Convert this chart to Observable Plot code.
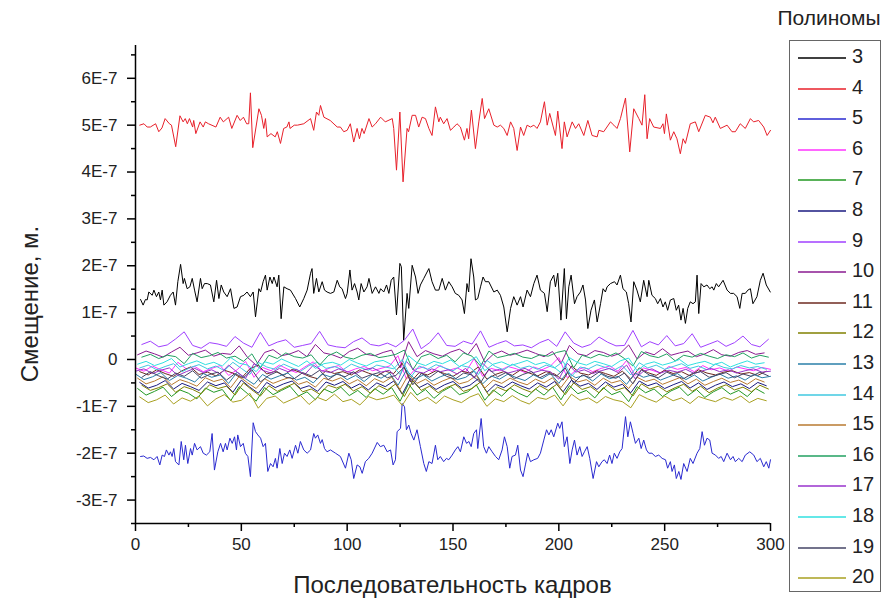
<!DOCTYPE html>
<html><head><meta charset="utf-8">
<script src="https://cdn.jsdelivr.net/npm/d3@7"></script>
<script src="https://cdn.jsdelivr.net/npm/@observablehq/plot@0.6"></script>
<style>
body{margin:0;background:#fff;font-family:"Liberation Sans",Arial,sans-serif;}
#wrap{position:relative;width:895px;height:600px;overflow:hidden;}
#legend{position:absolute;left:789px;top:40px;width:92px;height:552px;border:1px solid #666;box-sizing:border-box;background:#fff;}
#ltitle{position:absolute;left:764px;top:6px;width:130px;text-align:center;font-size:21px;color:#222;}
.item{position:absolute;left:0;height:24px;width:90px;}
.item svg{position:absolute;left:8px;top:11px;}
.item span{position:absolute;left:62px;top:0;font-size:20px;color:#222;}
#ylab{position:absolute;left:-80px;top:290px;width:220px;text-align:center;transform:rotate(-90deg);font-size:24px;color:#222;}
#xlab{position:absolute;left:135px;top:571px;width:635px;text-align:center;font-size:24px;color:#222;}
</style></head>
<body><div id="wrap"></div>
<script>
// values in units of 1E-8 m
const s3 = [[2.4,12.8],[3.6,11.6],[4.7,12.8],[5.5,12.7],[6.3,14.4],[7.9,13.7],[8.7,14.8],[9.9,13.4],[11,14.4],[11.8,12.7],[12.6,14.8],[13.4,11.6],[14.9,12.3],[16.5,13.7],[17.8,14.4],[18.9,11.6],[20,16.6],[21.3,20.3],[22.5,16.2],[23.1,17.3],[24.4,15.1],[25.7,15.5],[26.8,17.3],[27.9,14.8],[29.1,12.3],[30.7,17.3],[31.5,15.1],[32.6,16.2],[33.9,16.2],[35.4,15.9],[37,12.3],[38.3,16.9],[39.4,13],[40.5,15.9],[41.7,14.4],[43.3,13.4],[44.9,15.1],[46.5,10.9],[48,11.2],[49.6,13.4],[51.2,13.7],[52.7,14.4],[54.3,13.4],[55.6,14.4],[56.7,9.1],[58.3,15.1],[59.1,14.4],[60.3,16.6],[61.4,18],[62.2,14.8],[63.5,17.6],[64.6,16.2],[65.4,17.6],[66.9,15.5],[67.7,18],[68.8,8.7],[70.1,15.5],[71.6,15.1],[73.2,14.8],[75.6,13],[77.6,11.2],[79.5,13],[81.1,14.8],[82.7,18.4],[83.4,19.4],[84.2,14.1],[85.5,17.3],[86.6,14.4],[88.2,16.6],[89.3,14.8],[90.5,14.4],[92.1,14.1],[93.7,14.4],[95.3,16.9],[96.5,15.5],[97.6,15.1],[99.2,13],
[100,14.1],[101.3,19.1],[102.3,14.8],[103.5,16.2],[104.7,14.4],[105.5,12.7],[106.6,16.2],[107.9,14.4],[109.4,15.5],[110.3,17.3],[111.8,14.1],[113.4,15.5],[115,14.1],[115.8,15.1],[117.3,14.4],[118.6,15.9],[119.7,14.1],[120.8,16.9],[122,17.6],[123.3,9.5],[124.9,20.5],[125.6,19.8],[126.7,4.1],[128.3,14.1],[129.1,10.9],[130.7,20.1],[132.3,17.6],[133.5,14.1],[134.6,15.9],[136.2,17.3],[138.6,19.4],[140.1,16.6],[141.7,14.8],[143.3,14.8],[144.9,17.3],[146.4,14.8],[148,16.6],[149.6,15.5],[151.1,14.1],[152.7,13.7],[154.3,12.7],[155.4,9.8],[156.6,16.2],[157.4,14.4],[158.5,21.5],[159.8,17.6],[160.6,12.7],[161.7,13],[163,15.5],[164.2,17.6],[165.3,16.6],[166.9,16.6],[169.3,14.4],[170.9,14.8],[172.4,13.7],[174,11.2],[175.6,5.9],[177.2,10.9],[178.7,13.4],[180.3,11.6],[181.9,13.4],[183.1,11.2],[185,14.8],[186.6,13.4],[188.2,16.2],[189.7,18],[191.3,14.8],[193.2,14.1],[194.5,10.2],[196,16.6],[197.6,18],[198.4,15.5],
[199.5,18.4],[201,8.4],[202.6,19.4],[203.6,8.7],[204.7,15.5],[205.8,18],[207.4,11.9],[208.6,13.4],[210.2,14.4],[211.4,15.9],[212.6,12.7],[213.7,6.6],[215.2,10.5],[216.8,12.7],[218.1,8],[219.7,11.9],[220.9,15.1],[222,14.4],[222.8,15.5],[224.4,16.2],[226.3,16.6],[227.5,15.9],[229.1,18],[230.3,15.1],[231.9,14.4],[233,11.9],[234.1,8],[235.4,16.6],[236.9,14.8],[238.5,12.3],[240.1,16.9],[241.7,13.4],[242.5,16.9],[244,13.7],[245.6,13],[246.7,11.9],[248,13],[249.2,11.2],[250.3,12.3],[251.4,10.5],[252.7,12.7],[254.3,13],[255.5,10.5],[256.6,11.6],[257.7,8.4],[258.7,10.9],[259.8,7.7],[260.9,10.9],[262.1,12.3],[263.4,11.9],[264.5,12.3],[265.3,18],[266.1,9.8],[267.2,16.2],[268.5,15.5],[270,15.9],[271.3,15.1],[272.4,15.5],[273.2,14.8],[274.4,16.2],[275.5,15.5],[277.6,16.9],[279.5,14.8],[281.1,14.1],[282.6,14.1],[284.2,13.4],[285.5,10.9],[286.6,14.1],[288.1,14.1],[289.3,14.8],[290.5,15.1],[291.7,11.9],[293.6,13.4],[295.2,16.9],[296.5,18.4],[298,15.9],[299.9,14.4]];

const s4 = [[2,50],[4,50.3],[5.5,49.6],[7,49.6],[9.5,50.3],[11,48.6],[12.5,49.4],[14,51.4],[16,50.3],[17,50],[19,45.4],[21,52],[22.5,50.7],[23.5,51.4],[24.5,50.3],[25.5,51.4],[27,49.6],[27.5,51],[28.5,48.2],[30.5,50.7],[32,49.6],[33,50.7],[34.5,50.3],[38,49.6],[40,51.7],[41.5,50.7],[44,51.7],[45.5,49.3],[48,52.1],[49.5,51],[51,51.7],[52.5,50.3],[53.5,50.3],[54.3,56.9],[55.4,45.2],[58.3,53.5],[59.5,52.1],[60.6,49.3],[61.4,51.4],[62.2,47.5],[64,48.2],[66,47.5],[67,48.6],[68.5,46.1],[70,49.3],[71.5,49.6],[72.5,50.7],[73,49.3],[75,50],[76.5,50],[79.5,50.3],[82.7,51.4],[84.2,48.9],[85.5,52.8],[86.6,52.1],[87.4,54.2],[89,51.7],[92,51],[95.3,49.6],[96.8,49.6],[98.4,48.6],
[100,48.9],[101.5,50.3],[103.1,46.4],[104.7,49.3],[105.8,47.1],[107,49.3],[108,48.2],[110.3,51.4],[111.8,49.6],[113.4,50.3],[115.8,51.7],[118,50.7],[121.3,51.4],[122,49.3],[123.3,40.4],[124.9,52.8],[126.4,37.9],[128.3,49.3],[129,48.6],[130.7,52.1],[132.3,52.1],[133.8,49.6],[135.4,51.7],[137,51.4],[138.6,49.3],[140.1,47.8],[141.7,53.9],[143.3,50.7],[144,51.7],[145.6,50.3],[147.2,51.4],[148.8,48.9],[150.4,49.6],[151.9,50.3],[153.5,49.6],[155.4,46.8],[156.6,49.3],[157.4,47.1],[158.7,53.2],[160.6,45],[162.2,50.7],[163.8,55.7],[164.9,51.4],[166.9,53.5],[169.3,50],[170.9,49.6],[172.4,50],[174,49.3],[175.6,47.8],[177.2,50.7],[178.7,49.3],[180.3,44.6],[181.9,49.6],[183.4,47.8],[185,50],[186.6,49.6],[188.2,50],[189.7,49.3],[191.3,50.7],[193.2,55],[194.5,50],[195.7,52.5],[198.4,47.8],
[199.5,53],[201.5,45],[202.6,50.7],[203.9,47.5],[206.3,50.7],[207.9,49.3],[209.4,50.3],[211.8,47.8],[213.7,51],[215.7,47.8],[218.1,47.5],[218.9,48.9],[221.2,48.6],[224.4,50.7],[226,50],[227.5,49.3],[229.1,51.4],[231.5,55.8],[233.5,44.3],[235.4,53.5],[237.8,51.4],[239.3,50],[240.6,56.5],[241.7,47.1],[242.9,51.4],[244.8,49.6],[248,49.3],[249.2,50.3],[249.9,48.2],[250.8,52.4],[252.7,46.8],[254.3,48.6],[255.8,47.1],[257.4,43.9],[258.7,47.1],[259.8,46.1],[262.1,50.3],[264.5,50.7],[266.1,48.6],[269.2,52.1],[271.6,51.7],[272.8,50.5],[273.9,51.7],[276.3,49.3],[279.5,50],[281.8,48.6],[283.4,48.6],[285.7,50.3],[288.1,49.3],[290.5,51.4],[292,50.7],[294.4,51],[296.8,49.6],[298.4,47.8],[300,48.9]];

const s5 = [[2.4,-20.7],[3.9,-20.6],[5.5,-21.1],[7.1,-20.9],[8.7,-21.4],[10.2,-20.7],[11.5,-22.5],[12.6,-20.4],[13.7,-20.7],[14.6,-19.3],[15.8,-20.4],[16.5,-19.7],[17.3,-20.7],[18.1,-19],[18.9,-21.8],[20.5,-22.5],[21.6,-17.5],[22.8,-21.4],[23.6,-18.3],[24.7,-22.2],[26,-19],[26.8,-20.4],[27.9,-17.9],[29.1,-19.3],[30.7,-18.6],[32,-20],[33.5,-20.4],[35.1,-19.7],[36.2,-15.8],[37.3,-23.6],[38.9,-19.7],[40.2,-17.9],[41.4,-19.7],[42.5,-17.9],[43.3,-19.3],[44.6,-16.8],[45.7,-17.9],[46.8,-16.5],[47.7,-19.3],[48.3,-16.1],[49.6,-18.6],[50.9,-17.9],[51.9,-20],[53.1,-20.7],[54.3,-25],[55.6,-13.5],[56.7,-15.4],[57.8,-16.1],[59.1,-16.8],[60.3,-18.6],[61.4,-17.9],[62.5,-23.9],[63.8,-22.2],[65,-22.9],[66.1,-21.1],[66.9,-23.2],[68.2,-19],[69.3,-22.2],[70.4,-20],[71.6,-20.7],[72.9,-19.3],[74,-21.1],[75.6,-18.3],[76.7,-20],[77.9,-17.5],[79.5,-19.3],[81.1,-20],[82.7,-19.3],[84.2,-15.8],[85,-16.8],[86.1,-16.1],[87.4,-17.9],[88.2,-17.1],[89.3,-19],[90.5,-19.7],[92.1,-19.3],[94.5,-20],[96.8,-20.7],[99.2,-23.2],
[100.8,-20],[101.9,-21.4],[103.1,-25.4],[104.7,-22.5],[106,-22.9],[107.1,-24.3],[108.6,-21.8],[110.2,-21.1],[111.8,-20],[114.2,-17.7],[115.7,-18.6],[117.3,-18.3],[118.9,-19.7],[120.5,-19.3],[121.7,-22.5],[122.8,-21.4],[123.6,-15.4],[125.2,-14.7],[126,-9.4],[127.1,-10.1],[128,-15],[129.1,-14],[130.2,-15.8],[131.5,-17.2],[133,-15],[134.6,-18.6],[136.2,-22.2],[137.4,-23.9],[138.6,-21.8],[140.1,-22.2],[141.7,-18.3],[142.8,-21.4],[144,-20.7],[145.6,-21.8],[146.9,-21.1],[148,-21.4],[149.6,-20.4],[151.1,-19.3],[152.3,-18.6],[153.5,-19.7],[155.1,-16.5],[156.4,-17.9],[157.5,-17.5],[158.6,-18.6],[159.8,-15.8],[161.1,-15],[161.7,-19],[163.3,-12.6],[164.5,-18.6],[165.8,-20],[166.9,-18.6],[168.5,-19.7],[170.1,-20.7],[171.6,-21.4],[173.2,-19.3],[174.3,-16.5],[175.6,-18.6],[176.8,-23.2],[177.9,-20.7],[179.5,-20.4],[180.6,-18.3],[181.9,-23.6],[183.1,-25],[184.2,-22.5],[185.3,-20],[186.6,-21.8],[188.2,-21.4],[190,-21.1],[191.3,-20],[192.9,-17.2],[194.2,-15],[195.3,-16.1],[196.4,-15],[197.6,-16.5],
[199.5,-13.6],[200.4,-14.7],[201.5,-13.3],[202.6,-18.6],[203.9,-16.5],[205.2,-22.2],[206.3,-19.3],[207.4,-17.2],[208.6,-20.4],[209.9,-18.6],[211,-20.7],[212.1,-19.7],[213.4,-18.6],[214.6,-21.1],[216.2,-25.4],[217.8,-21.8],[218.9,-22.9],[220.4,-21.8],[221.5,-21.4],[222.8,-22.2],[224,-20.4],[225.1,-22.2],[226.2,-20],[227.5,-21.1],[228.8,-19.7],[229.9,-19],[231.5,-12.2],[232.6,-16.5],[233.8,-13.3],[235.1,-15.8],[236.2,-17.9],[237.8,-16.8],[238.9,-19],[240.1,-17.2],[241.4,-19.3],[242.5,-20],[244,-20],[245.6,-20.7],[247.2,-20.4],[248.8,-21.1],[250.4,-21.4],[251.4,-23.2],[252.7,-21.8],[253.5,-23.9],[254.6,-22.5],[255.5,-25.4],[256.7,-23.9],[257.7,-25.6],[259,-22.2],[260.6,-23.9],[262.1,-21.1],[263.4,-22.2],[265.3,-20],[266.6,-19],[267.7,-15.4],[268.8,-18.3],[270,-16.8],[271.3,-17.2],[272.4,-20],[274,-20.4],[275.5,-21.1],[276.7,-20.7],[277.9,-21.8],[279.5,-20],[281.1,-21.4],[282.3,-20.7],[283.4,-21.8],[285,-21.1],[286.6,-21.8],[288.1,-20.4],[290.2,-19.7],[292.1,-20.4],[293.6,-21.8],[295.2,-21.1],[296.8,-22.9],[298,-21.8],[299.2,-23.2],[300,-21.4]];

// cluster series near zero, sampled every 4 frames from each series' start frame, units 1E-8 m
const s6 = [-1.8,-2.5,-1.4,-2.2,-2.9,-0.6,-2.0,-1.5,-2.6,-1.9,-1.3,-3.4,-2.2,-0.4,-3.8,-1.7,-2.4,-1.2,-2.1,-2.8,-1.6,-0.5,-2.5,-1.8,-1.3,-2.7,-2.0,-1.5,-2.4,-1.9,-1.4,0.8,-4.2,-2.1,-1.6,-2.6,-1.3,-2.3,-1.8,-2.7,0.2,-3.6,-1.9,-2.4,-1.5,-2.0,-2.8,-1.6,-2.2,-1.4,0.4,-3.9,-2.3,-1.7,-2.6,-1.9,-1.4,-2.5,-0.2,-3.4,-1.8,-2.3,-2.9,-1.5,-2.1,-1.7,-2.6,-1.3,-2.2,-1.8,-2.5,-1.6,-2.0,-2.4,-1.7,-2.1];
const s7 = [-6.2,-7.6,-6.8,-5.9,-7.9,-6.5,-7.2,-8.4,-6.1,-7.0,-6.4,-8.8,-5.8,-7.3,-8.9,-6.0,-7.5,-6.6,-5.7,-7.8,-6.9,-8.6,-6.3,-7.1,-5.9,-7.7,-6.6,-8.1,-6.2,-7.4,-6.0,-8.9,-5.2,-7.6,-6.4,-8.3,-6.8,-5.8,-7.5,-6.9,-5.4,-8.7,-6.5,-7.8,-6.1,-7.2,-8.0,-6.3,-7.6,-5.9,-8.6,-5.6,-7.3,-6.6,-8.2,-6.0,-7.5,-6.8,-9.0,-5.8,-7.1,-6.3,-7.9,-6.7,-5.9,-7.7,-6.4,-8.1,-6.9,-6.0,-7.4,-6.6,-7.9,-6.2,-7.2,-6.8];
const s8 = [-4.9,-6.1,-5.5,-4.5,-6.3,-5.1,-5.8,-6.6,-4.8,-5.6,-5.0,-7.0,-4.4,-5.9,-7.2,-4.9,-6.0,-5.2,-4.6,-6.2,-5.6,-6.8,-4.8,-5.5,-4.7,-6.1,-5.2,-6.5,-5.0,-5.8,-4.6,-7.4,-4.0,-6.0,-5.1,-6.4,-5.4,-4.7,-6.1,-5.5,-4.1,-7.0,-5.3,-6.0,-4.8,-5.6,-6.3,-5.0,-5.9,-4.7,-6.9,-4.4,-5.7,-5.1,-6.4,-4.8,-5.9,-5.3,-7.1,-4.6,-5.6,-5.0,-6.2,-5.4,-4.7,-6.1,-5.0,-6.4,-5.5,-4.8,-5.8,-5.2,-6.2,-4.9,-5.6,-5.3];
const s9 = [3.2,3.9,2.7,3.1,4.4,5.9,3.0,2.4,3.6,3.3,2.8,4.9,3.5,2.6,5.8,2.9,3.7,4.2,2.6,3.0,3.4,6.0,3.1,2.7,2.5,3.8,4.6,3.2,2.9,3.5,2.7,4.1,6.5,2.3,3.6,5.7,3.0,2.8,3.9,3.3,6.1,2.6,3.4,4.0,2.9,3.1,2.5,3.6,4.3,2.8,5.9,3.5,2.6,3.2,4.8,3.7,2.9,3.0,6.2,2.7,3.8,3.1,5.1,2.9,3.4,5.5,2.6,3.3,4.0,2.8,3.6,5.0,3.2,2.7,4.3,3.5];
const s10 = [1.0,1.8,1.2,0.5,1.6,2.6,0.9,1.4,2.0,0.7,1.3,1.1,2.9,0.4,-1.2,1.5,2.1,0.8,1.2,1.9,0.6,3.2,1.4,1.0,0.3,1.7,2.4,1.1,0.8,1.5,2.0,-1.8,3.8,0.6,1.9,1.2,0.7,1.6,2.2,1.0,3.4,-0.6,1.1,1.8,0.9,1.4,2.0,1.3,0.6,1.7,-0.9,3.0,1.2,0.8,1.9,1.5,0.7,1.3,3.1,0.1,1.6,1.0,2.3,0.9,1.4,1.8,0.6,1.2,2.1,1.0,0.7,1.5,1.9,1.1,1.4,1.2];
const s11 = [-2.6,-3.3,-2.2,-3.0,-3.6,-2.4,-1.6,-3.2,-2.7,-3.5,-2.3,-2.9,-4.0,-2.0,-1.2,-3.1,-2.5,-3.4,-2.1,-2.8,-3.6,-4.1,-2.4,-3.0,-2.6,-3.3,-2.2,-2.9,-3.5,-2.5,-3.0,-0.8,-4.8,-2.8,-3.3,-2.4,-3.0,-3.6,-2.5,-2.9,-1.6,-4.2,-3.2,-2.6,-3.4,-2.2,-2.9,-3.5,-2.6,-3.1,-4.4,-1.4,-2.9,-3.3,-2.4,-3.0,-3.6,-2.5,-4.2,-1.8,-2.8,-3.4,-2.3,-3.0,-2.6,-3.5,-2.2,-2.9,-3.3,-2.7,-2.4,-3.1,-2.8,-3.4,-2.5,-2.9];
const s12 = [-5.5,-6.6,-6.0,-5.2,-7.0,-5.8,-6.4,-7.3,-5.4,-6.2,-5.7,-7.6,-5.0,-6.5,-7.8,-5.6,-6.8,-5.9,-5.1,-6.9,-6.3,-7.4,-5.5,-6.1,-5.3,-6.7,-5.8,-7.2,-5.6,-6.5,-5.2,-7.9,-4.6,-6.6,-5.7,-7.1,-6.0,-5.3,-6.8,-6.2,-4.8,-7.7,-5.9,-6.7,-5.4,-6.3,-7.0,-5.6,-6.6,-5.3,-7.5,-5.0,-6.4,-5.8,-7.1,-5.4,-6.6,-6.0,-7.8,-5.2,-6.3,-5.7,-6.9,-6.0,-5.3,-6.8,-5.7,-7.1,-6.1,-5.4,-6.5,-5.9,-6.9,-5.5,-6.3,-6.0];
const s13 = [-3.1,-4.3,-3.7,-2.8,-4.5,-3.4,-4.0,-4.8,-3.0,-3.8,-3.3,-5.1,-2.7,-4.1,-5.3,-3.2,-4.2,-3.5,-2.9,-4.4,-3.8,-5.0,-3.1,-3.7,-3.0,-4.3,-3.4,-4.7,-3.2,-4.0,-2.9,-5.5,-2.3,-4.2,-3.3,-4.6,-3.7,-3.0,-4.3,-3.8,-2.5,-5.2,-3.5,-4.2,-3.1,-3.9,-4.5,-3.3,-4.1,-3.0,-5.1,-2.7,-3.9,-3.4,-4.6,-3.1,-4.1,-3.6,-5.3,-2.9,-3.8,-3.3,-4.4,-3.7,-3.0,-4.3,-3.3,-4.6,-3.8,-3.1,-4.0,-3.5,-4.4,-3.2,-3.9,-3.6];
const s14 = [-1.8,-1.2,-2.2,-1.5,-0.9,-2.6,-1.7,-1.1,-2.0,-1.4,-2.4,-0.6,-1.9,-3.2,-0.6,-1.6,-2.1,-1.0,-1.8,-2.5,-1.3,-0.6,-1.9,-1.5,-2.2,-1.0,-1.7,-2.3,-1.2,-1.6,-2.0,0.0,-3.8,-1.4,-2.1,-1.1,-1.8,-2.4,-1.3,-1.7,-3.2,-0.2,-1.5,-2.2,-1.0,-1.9,-1.4,-2.1,-1.2,-1.8,-0.4,-3.6,-1.6,-2.0,-1.1,-1.7,-2.3,-1.3,-3.3,-0.7,-1.8,-1.2,-2.1,-1.5,-0.9,-1.9,-1.4,-2.2,-1.0,-1.7,-2.0,-1.3,-1.8,-1.5,-2.1,-1.6];
const s15 = [-4.0,-5.2,-4.6,-3.7,-5.4,-4.3,-4.9,-5.7,-3.9,-4.7,-4.2,-6.0,-3.6,-5.0,-6.2,-4.1,-5.1,-4.4,-3.8,-5.3,-4.7,-5.9,-4.0,-4.6,-3.9,-5.2,-4.3,-5.6,-4.1,-4.9,-3.8,-6.4,-3.2,-5.1,-4.2,-5.5,-4.6,-3.9,-5.2,-4.7,-3.4,-6.1,-4.4,-5.1,-4.0,-4.8,-5.4,-4.2,-5.0,-3.9,-6.0,-3.6,-4.8,-4.3,-5.5,-4.0,-5.0,-4.5,-6.2,-3.8,-4.7,-4.2,-5.3,-4.6,-3.9,-5.2,-4.2,-5.5,-4.7,-4.0,-4.9,-4.4,-5.3,-4.1,-4.8,-4.5];
const s16 = [0.5,1.1,0.2,0.9,0.6,-0.9,1.3,0.4,0.8,1.5,0.3,0.7,-0.4,1.2,-1.8,0.9,0.2,1.4,0.6,0.3,1.0,-1.2,0.8,1.6,0.5,0.1,0.9,1.3,0.4,0.7,1.1,2.0,-2.2,0.6,1.2,0.2,0.9,-0.5,1.4,0.7,-1.4,1.8,0.4,0.8,1.3,0.5,0.2,1.0,0.7,1.5,1.9,-1.8,0.9,0.3,1.1,0.6,1.4,0.2,-1.4,1.7,0.8,0.4,1.2,-0.3,0.9,0.5,1.3,0.7,0.2,1.0,0.6,1.4,0.3,0.9,0.5,0.8];
const s17 = [-2.5,-2.0,-3.0,-2.3,-1.8,-3.4,-2.6,-1.9,-2.8,-2.2,-3.1,-1.2,-2.7,-4.0,-0.9,-2.3,-2.9,-1.9,-2.6,-2.1,-3.2,-1.2,-2.4,-2.8,-2.0,-2.6,-3.0,-2.2,-1.8,-2.7,-2.3,-4.4,-0.4,-2.5,-2.9,-2.0,-2.6,-2.2,-3.1,-1.9,-4.0,-0.8,-2.6,-2.1,-2.9,-2.4,-1.9,-2.8,-2.3,-2.6,-4.2,-0.8,-2.7,-2.2,-3.0,-2.4,-1.9,-2.8,-1.2,-4.1,-2.5,-2.0,-2.9,-2.3,-2.7,-2.1,-3.0,-2.4,-1.9,-2.6,-2.2,-2.9,-2.4,-2.0,-2.7,-2.5];
const s18 = [-1.0,-0.4,-1.3,-0.7,0.2,-1.6,-0.9,-0.3,-1.1,-0.6,-1.4,0.4,-0.8,-1.2,-2.6,-0.5,-1.0,0.1,-0.7,-1.5,-0.3,-1.9,-0.9,-0.6,-1.2,0.0,-0.8,-1.4,-0.5,-0.2,-1.1,-3.2,0.8,-0.7,-1.3,-0.4,-0.9,-0.1,-1.5,-0.6,0.6,-2.4,-1.0,-0.5,-1.3,-0.8,-0.2,-1.1,-0.6,-1.4,-2.8,0.4,-0.7,-1.2,-0.4,-0.9,-1.5,-0.3,0.3,-2.4,-1.0,-0.5,-1.2,-0.7,0.0,-1.3,-0.8,-0.4,-1.1,-0.6,-1.6,-0.9,-0.3,-1.0,-0.7,-0.9];
const s19 = [-3.8,-2.6,-3.5,-4.2,-2.9,-3.6,-2.4,-4.0,-3.2,-2.7,-4.4,-3.0,-3.9,-2.2,-4.8,-3.4,-2.6,-3.8,-4.1,-2.8,-3.5,-2.3,-4.3,-3.1,-3.7,-2.6,-4.0,-3.3,-2.8,-3.9,-3.4,-1.6,-5.4,-3.0,-3.8,-2.5,-3.6,-4.2,-2.9,-3.3,-5.0,-2.0,-3.7,-2.8,-4.1,-3.2,-2.6,-3.9,-3.0,-3.5,-1.8,-5.1,-3.3,-3.9,-2.7,-3.6,-4.0,-2.9,-5.2,-2.2,-3.4,-3.9,-2.7,-3.5,-4.1,-3.0,-2.6,-3.8,-3.3,-2.8,-3.9,-3.1,-3.6,-2.7,-3.5,-3.2];
const s20 = [-8.0,-9.2,-8.6,-7.6,-9.5,-8.2,-8.9,-7.8,-9.9,-8.4,-7.5,-9.1,-8.7,-7.2,-10.4,-8.3,-7.8,-9.3,-8.5,-7.7,-9.6,-8.1,-8.8,-7.4,-9.0,-8.5,-9.7,-7.9,-8.6,-8.2,-7.6,-9.8,-7.0,-8.9,-8.1,-9.4,-7.8,-8.6,-9.2,-8.0,-7.3,-10.0,-8.4,-9.0,-7.7,-8.8,-9.5,-8.1,-8.5,-7.6,-9.9,-7.4,-8.7,-8.2,-9.3,-7.9,-8.6,-9.0,-10.3,-7.5,-8.4,-9.1,-7.8,-8.8,-8.2,-9.4,-7.9,-8.5,-9.0,-8.1,-8.7,-7.8,-9.2,-8.3,-8.8,-8.5];

const names  = ["3","4","5","6","7","8","9","10","11","12","13","14","15","16","17","18","19","20"];
const colors = ["#000000","#e8202a","#2a2ad0","#ff33ff","#229922","#1a1a80","#a040ff","#8a1a90","#6e2a20","#808000","#2a7fa8","#40c8e0","#b87a30","#22a060","#9933cc","#30e0e0","#444466","#a8a020"];
const startFrame = {"6":0,"7":1,"8":2,"9":3,"10":1,"11":2,"12":3,"13":0,"14":2,"15":1,"16":3,"17":0,"18":1,"19":3,"20":2};
const yTicks = [-3,-2,-1,0,1,2,3,4,5,6];        // in 1E-7
const yMinor = [-3.5,-2.5,-1.5,-0.5,0.5,1.5,2.5,3.5,4.5,5.5,6.5];
const xTicks = [0,50,100,150,200,250,300];
const xMinor = [25,75,125,175,225,275];

const U = 1e-8;
const pairSeries = {"3": s3, "4": s4, "5": s5};
const stepSeries = {"6":s6,"7":s7,"8":s8,"9":s9,"10":s10,"11":s11,"12":s12,"13":s13,"14":s14,"15":s15,"16":s16,"17":s17,"18":s18,"19":s19,"20":s20};
const rows = [];
for (const n of names) {
  if (pairSeries[n]) pairSeries[n].forEach(([f, v]) => rows.push({frame: f, value: v * U, poly: n}));
  else stepSeries[n].forEach((v, i) => {
    const f = startFrame[n] + i * 4;
    if (f <= 300) rows.push({frame: f, value: v * U, poly: n});
  });
}

const fmt = d => Math.abs(d) < 1e-12 ? "0" : Math.round(d * 1e7) + "E-7";
const axFont = {fontSize: 17, fill: "#222"};

const chart = Plot.plot({
  width: 895, height: 600,
  marginLeft: 135, marginRight: 125, marginTop: 45, marginBottom: 77,
  style: {fontFamily: "'Liberation Sans', Arial, sans-serif", background: "transparent"},
  x: {domain: [0, 300]},
  y: {domain: [-3.5e-7, 6.7e-7]},
  color: {domain: names, range: colors},
  marks: [
    Plot.line(rows, {x: "frame", y: "value", z: "poly", stroke: "poly", strokeWidth: 1}),
    Plot.axisY(yTicks.map(t => t * 1e-7), {tickSize: 8, tickPadding: 10, tickFormat: fmt, label: null, strokeWidth: 1.5, ...axFont}),
    Plot.axisY(yMinor.map(t => t * 1e-7), {tickSize: 4, tickFormat: () => "", label: null, strokeWidth: 1.5}),
    Plot.axisX(xTicks, {tickSize: 8, tickPadding: 6, label: null, strokeWidth: 1.5, ...axFont}),
    Plot.axisX(xMinor, {tickSize: 4, tickFormat: () => "", label: null, strokeWidth: 1.5}),
    Plot.ruleX([0], {strokeWidth: 1.5}),
    Plot.ruleY([-3.5e-7], {strokeWidth: 1.5})
  ]
});

const wrap = document.getElementById("wrap");
wrap.appendChild(chart);
chart.style.position = "absolute"; chart.style.left = "0"; chart.style.top = "0";

const yl = document.createElement("div"); yl.id = "ylab"; yl.textContent = "Смещение, м."; wrap.appendChild(yl);
const xl = document.createElement("div"); xl.id = "xlab"; xl.textContent = "Последовательность кадров"; wrap.appendChild(xl);
const lt = document.createElement("div"); lt.id = "ltitle"; lt.textContent = "Полиномы"; wrap.appendChild(lt);
const lg = document.createElement("div"); lg.id = "legend"; wrap.appendChild(lg);
names.forEach((n, i) => {
  const it = document.createElement("div");
  it.className = "item";
  it.style.top = Math.round(4 + i * 30.6) + "px";
  it.innerHTML = `<svg width="48" height="4" style="display:block"><line x1="0" y1="2" x2="48" y2="2" stroke="${colors[i]}" stroke-width="1.3"/></svg><span>${n}</span>`;
  lg.appendChild(it);
});
</script>
</body></html>
